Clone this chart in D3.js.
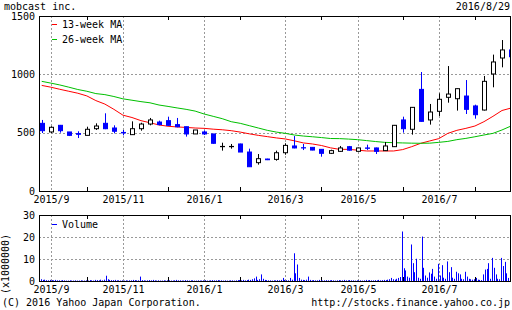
<!DOCTYPE html>
<html>
<head>
<meta charset="utf-8">
<script src="https://cdn.jsdelivr.net/npm/d3@7"></script>
<style>
body { margin: 0; background: #fff; }
text { font-family: "DejaVu Sans Mono", monospace; font-size: 10px; fill: #000; }
</style>
</head>
<body>
<div id="chart"></div>
<script>
// weekly candles, week 0 = 2015/8/31 ... week 52 = 2016/8/29
var open  = [580,506,563,506,492,477,534,580,540,502,483,534,574,591,603,569,551,489,506,489,380,380,403,334,243,274,271,328,386,371,374,357,323,340,380,340,369,369,346,380,609,529,871,609,683,803,791,814,729,694,1003,1140,1209];
var close = [517,546,517,477,486,529,557,534,512,498,534,574,609,569,563,551,489,523,489,409,382,382,334,208,277,268,328,391,369,369,351,323,346,369,350,369,366,340,386,563,534,717,597,677,786,831,877,700,654,940,1106,1209,1151];
var high  = [609,555,566,506,512,551,580,666,563,523,597,585,626,603,637,626,551,523,520,489,414,403,406,363,317,277,346,409,471,403,377,357,354,386,386,372,397,372,420,566,637,720,1020,746,837,1071,880,951,740,986,1169,1294,1215];
var low   = [497,496,500,471,454,477,523,530,494,477,480,517,563,563,560,546,466,489,480,405,346,363,334,208,226,265,260,311,366,351,349,294,317,337,346,340,352,317,343,377,500,483,594,569,643,757,689,660,620,690,889,1060,1140];

// moving averages read at each week
var ma13 = [905,890,872,855,838,815,775,745,700,650,630,603,585,566,555,549,545,540,537,530,525,517,505,490,477,466,455,446,430,412,403,390,370,357,357,350,343,343,343,343,355,380,409,429,449,494,520,537,557,594,640,690,711];
var ma26 = [940,925,909,890,870,855,835,826,810,790,778,766,756,737,725,712,700,685,660,640,620,594,580,560,540,520,505,494,480,471,465,458,450,449,445,440,432,424,417,414,412,410,409,410,417,425,440,451,465,480,494,523,557];

// daily volume (x1000000), 5 trading days per week
var volume = [
  [0.8,0.5,0.6,0.4,0.3],[0.5,0.4,0.3,0.5,0.3],[0.3,0.2,0.4,0.3,0.2],[0.2,0.3,0.2,0.2,0.3],
  [0.2,0.2,0.3,0.2,0.2],[0.3,0.2,0.4,0.3,0.2],[0.5,0.4,0.3,0.6,0.3],[0.6,2.4,0.8,0.5,0.4],
  [0.4,0.5,0.3,0.3,0.2],[0.3,0.2,0.3,0.2,0.3],[0.3,0.5,0.4,0.3,0.3],[2.0,0.4,0.3,0.2,0.3],
  [0.4,0.3,0.5,0.3,0.2],[0.3,0.2,0.2,0.3,0.2],[0.3,0.3,0.2,0.2,0.3],[0.5,0.3,0.3,0.2,0.2],
  [0.4,0.3,0.2,0.3,0.3],[0.2,0.2,0.3,0.2,0.2],[0.3,0.4,0.2,0.2,0.3],[0.4,0.3,0.3,0.4,0.3],
  [0.3,0.2,0.3,0.2,0.2],[0.3,0.3,0.2,0.3,0.4],[0.4,0.3,0.5,0.3,0.4],[0.6,0.5,0.8,1.2,2.0],
  [0.5,0.8,3.0,1.0,0.5],[0.4,0.3,0.3,0.2,0.3],[0.3,0.4,0.3,0.5,1.4],[0.5,0.4,0.3,1.4,0.6],
  [12.6,3.5,7.5,1.4,0.6],[0.5,0.4,0.6,2.0,0.5],[0.3,0.4,0.3,0.3,0.5],[0.3,0.2,0.3,0.4,0.3],
  [0.3,0.4,0.3,0.2,0.3],[0.4,0.3,0.3,0.5,0.3],[0.3,0.4,0.3,0.3,0.2],[0.3,0.3,0.3,0.2,0.3],
  [0.5,0.3,0.4,0.3,0.3],[0.4,0.3,0.5,0.3,0.4],[0.5,0.4,0.6,0.8,1.4],[0.8,0.6,1.0,1.4,1.8],
  [22.5,5.8,4.8,2.0,1.5],[16.6,8.1,4.0,10.1,1.5],[1.0,20.2,6.0,2.5,1.5],[3.9,3.3,5.5,2.0,1.0],
  [7.8,2.5,7.2,1.5,1.0],[8.9,4.0,6.3,1.5,1.0],[4.2,3.5,3.0,1.0,0.8],[4.2,2.0,1.0,0.8,0.6],
  [0.8,1.4,0.6,0.5,0.4],[3.0,5.2,5.5,8.1,1.0],[10.5,6.0,3.0,1.0,0.8],[10.5,6.8,8.7,3.5,1.4],
  [2.5]
];

var monthIndex = [1,5,9,14,18,22,27,31,35,40,44,48];
var monthLabel = ["2015/9","","2015/11","","2016/1","","2016/3","","2016/5","","2016/7",""];
var priceTicks = [0,500,1000,1500];
var volTicks = [0,10,20,30];

var W = 512, H = 310;
var left = 39, right = 511;
var svg = d3.select("#chart").append("svg").attr("width", W).attr("height", H);

var x = d3.scaleLinear().domain([-0.3, 52]).range([left, right]);
var y = d3.scaleLinear().domain([0, 1500]).range([191, 16]);
var yv = d3.scaleLinear().domain([0, 30]).range([281, 215]);

var grey = "#999";

svg.append("text").attr("x", 4).attr("y", 9.5).text("mobcast inc.");
svg.append("text").attr("x", 510).attr("y", 9.5).attr("text-anchor", "end").text("2016/8/29");

function panel(yScale, ticks, top, bottom, clipId) {
    var g = svg.append("g");
    // horizontal grid
    g.selectAll(".hg").data(ticks.slice(1, -1)).enter().append("line")
        .attr("x1", left).attr("x2", right)
        .attr("y1", function(d) { return Math.round(yScale(d)) + 0.5; })
        .attr("y2", function(d) { return Math.round(yScale(d)) + 0.5; })
        .attr("stroke", grey).attr("stroke-dasharray", "2,2");
    // vertical grid on labelled months, small ticks on the others
    monthIndex.forEach(function(m, i) {
        var xx = Math.round(x(m)) + 0.5;
        if (monthLabel[i]) {
            g.append("line").attr("x1", xx).attr("x2", xx).attr("y1", top).attr("y2", bottom)
                .attr("stroke", grey).attr("stroke-dasharray", "2,2");
            g.append("text").attr("x", xx).attr("y", bottom + 12).attr("text-anchor", "middle").text(monthLabel[i]);
        } else {
            g.append("line").attr("x1", xx).attr("x2", xx).attr("y1", top).attr("y2", top + 4).attr("stroke", "#000");
            g.append("line").attr("x1", xx).attr("x2", xx).attr("y1", bottom - 4).attr("y2", bottom).attr("stroke", "#000");
        }
    });
    g.selectAll(".yl").data(ticks).enter().append("text")
        .attr("x", 35).attr("y", function(d) { return yScale(d) + 3.5; })
        .attr("text-anchor", "end").text(function(d) { return d; });
    svg.append("clipPath").attr("id", clipId).append("rect")
        .attr("x", left).attr("y", top).attr("width", right - left).attr("height", bottom - top);
    return g;
}

// price panel
panel(y, priceTicks, 16, 191, "clipP");
var plot = svg.append("g").attr("clip-path", "url(#clipP)");

var maLine = d3.line().x(function(d, i) { return x(i); }).y(function(d) { return y(d); });
plot.append("path").attr("d", maLine(ma13)).attr("fill", "none").attr("stroke", "#ff0000").attr("stroke-width", 1);
plot.append("path").attr("d", maLine(ma26)).attr("fill", "none").attr("stroke", "#00c000").attr("stroke-width", 1);

var idx = d3.range(open.length);
plot.selectAll(".wick").data(idx).enter().append("line")
    .attr("x1", function(i) { return Math.round(x(i)) + 0.5; })
    .attr("x2", function(i) { return Math.round(x(i)) + 0.5; })
    .attr("y1", function(i) { return y(high[i]); })
    .attr("y2", function(i) { return y(low[i]); })
    .attr("stroke", function(i) { return close[i] < open[i] ? "#0000ff" : "#000"; });
plot.selectAll(".body").data(idx).enter().append("rect")
    .attr("x", function(i) { return Math.round(x(i)) - 2 + 0.5; })
    .attr("width", 4)
    .attr("y", function(i) { return y(Math.max(open[i], close[i])); })
    .attr("height", function(i) { return Math.max(0.01, Math.abs(y(open[i]) - y(close[i]))); })
    .attr("fill", function(i) { return close[i] < open[i] ? "#0000ff" : "#fff"; })
    .attr("stroke", function(i) { return close[i] < open[i] ? "#0000ff" : "#000"; });

svg.append("rect").attr("x", left + 0.5).attr("y", 16.5).attr("width", right - left - 1).attr("height", 175)
    .attr("fill", "none").attr("stroke", "#000");

// legend
svg.append("line").attr("x1", 52).attr("x2", 57).attr("y1", 24.5).attr("y2", 24.5).attr("stroke", "#ff0000");
svg.append("text").attr("x", 62).attr("y", 28).text("13-week MA");
svg.append("line").attr("x1", 52).attr("x2", 57).attr("y1", 39.5).attr("y2", 39.5).attr("stroke", "#00c000");
svg.append("text").attr("x", 62).attr("y", 43).text("26-week MA");

// volume panel
panel(yv, volTicks, 215, 281, "clipV");
var vplot = svg.append("g").attr("clip-path", "url(#clipV)");
var days = [];
volume.forEach(function(wk, i) {
    wk.forEach(function(v, d) { days.push({ t: i + (d - 0.5) / 5, v: v }); });
});
vplot.selectAll(".vb").data(days).enter().append("rect")
    .attr("x", function(d) { return Math.round(x(d.t)); })
    .attr("width", 1)
    .attr("y", function(d) { return yv(d.v); })
    .attr("height", function(d) { return yv(0) - yv(d.v); })
    .attr("fill", "#0000ff");
svg.append("rect").attr("x", left + 0.5).attr("y", 215.5).attr("width", right - left - 1).attr("height", 66)
    .attr("fill", "none").attr("stroke", "#000");
svg.append("line").attr("x1", 52).attr("x2", 57).attr("y1", 224.5).attr("y2", 224.5).attr("stroke", "#0000ff");
svg.append("text").attr("x", 62).attr("y", 228).text("Volume");

svg.append("text").attr("transform", "translate(9,264) rotate(-90)").attr("text-anchor", "middle").text("(x1000000)");

svg.append("text").attr("x", 2).attr("y", 306).text("(C) 2016 Yahoo Japan Corporation.");
svg.append("text").attr("x", 510).attr("y", 306).attr("text-anchor", "end").text("http://stocks.finance.yahoo.co.jp");
</script>
</body>
</html>
